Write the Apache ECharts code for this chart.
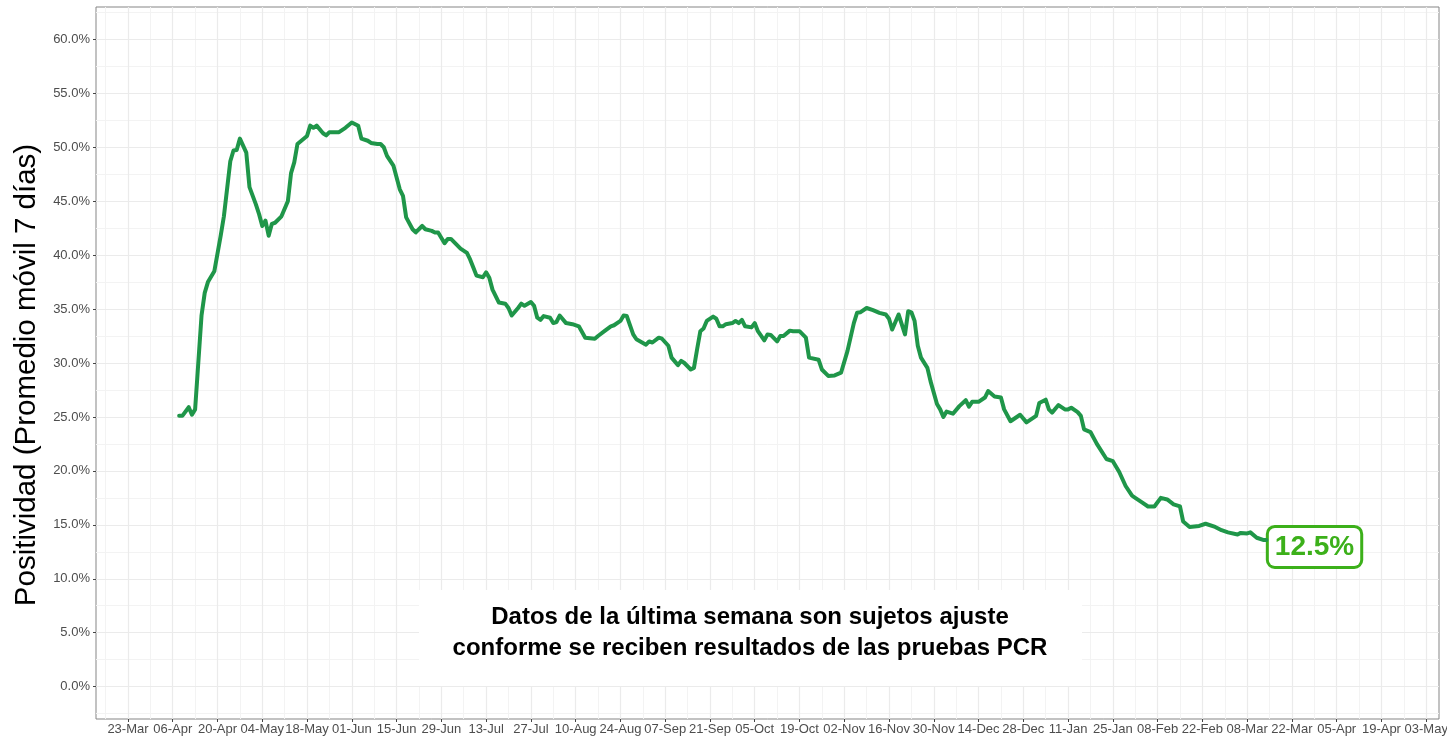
<!DOCTYPE html>
<html>
<head>
<meta charset="utf-8">
<title>Positividad</title>
<script src="https://cdn.jsdelivr.net/npm/echarts@6/dist/echarts.min.js"></script>
<style>
  html, body { margin: 0; padding: 0; background: #fff; }
  #chart { width: 1447px; height: 737px; }
</style>
</head>
<body>
<div id="chart"></div>
<script>
// fechas (promedio movil 7 dias)
const dates = [
  '2020-04-08','2020-04-09','2020-04-11','2020-04-12','2020-04-13','2020-04-15','2020-04-16','2020-04-17','2020-04-19','2020-04-21',
  '2020-04-22','2020-04-24','2020-04-25','2020-04-26','2020-04-27','2020-04-29','2020-04-30','2020-05-02','2020-05-03','2020-05-04',
  '2020-05-05','2020-05-06','2020-05-07','2020-05-08','2020-05-10','2020-05-12','2020-05-13','2020-05-14','2020-05-15','2020-05-18',
  '2020-05-19','2020-05-20','2020-05-21','2020-05-23','2020-05-24','2020-05-25','2020-05-28','2020-05-30','2020-06-01','2020-06-03',
  '2020-06-04','2020-06-06','2020-06-07','2020-06-09','2020-06-10','2020-06-11','2020-06-12','2020-06-14','2020-06-16','2020-06-17',
  '2020-06-18','2020-06-20','2020-06-21','2020-06-23','2020-06-24','2020-06-26','2020-06-27','2020-06-28','2020-06-30','2020-07-01',
  '2020-07-02','2020-07-05','2020-07-07','2020-07-08','2020-07-09','2020-07-10','2020-07-12','2020-07-13','2020-07-14','2020-07-15',
  '2020-07-17','2020-07-19','2020-07-20','2020-07-21','2020-07-23','2020-07-24','2020-07-25','2020-07-27','2020-07-28','2020-07-29',
  '2020-07-30','2020-07-31','2020-08-02','2020-08-03','2020-08-04','2020-08-05','2020-08-07','2020-08-09','2020-08-11','2020-08-13',
  '2020-08-16','2020-08-17','2020-08-19','2020-08-21','2020-08-22','2020-08-24','2020-08-25','2020-08-26','2020-08-28','2020-08-29',
  '2020-09-01','2020-09-02','2020-09-03','2020-09-05','2020-09-06','2020-09-08','2020-09-09','2020-09-11','2020-09-12','2020-09-13',
  '2020-09-15','2020-09-16','2020-09-17','2020-09-18','2020-09-19','2020-09-20','2020-09-22','2020-09-23','2020-09-24','2020-09-25',
  '2020-09-26','2020-09-28','2020-09-29','2020-09-30','2020-10-01','2020-10-02','2020-10-04','2020-10-05','2020-10-06','2020-10-08',
  '2020-10-09','2020-10-10','2020-10-12','2020-10-13','2020-10-14','2020-10-16','2020-10-17','2020-10-19','2020-10-21','2020-10-22',
  '2020-10-25','2020-10-26','2020-10-28','2020-10-30','2020-11-01','2020-11-03','2020-11-05','2020-11-06','2020-11-07','2020-11-09',
  '2020-11-11','2020-11-13','2020-11-15','2020-11-16','2020-11-17','2020-11-19','2020-11-21','2020-11-22','2020-11-23','2020-11-24',
  '2020-11-25','2020-11-26','2020-11-28','2020-11-29','2020-12-01','2020-12-02','2020-12-03','2020-12-04','2020-12-06','2020-12-08',
  '2020-12-10','2020-12-11','2020-12-12','2020-12-14','2020-12-16','2020-12-17','2020-12-19','2020-12-21','2020-12-22','2020-12-24',
  '2020-12-27','2020-12-29','2021-01-01','2021-01-02','2021-01-04','2021-01-05','2021-01-06','2021-01-08','2021-01-10','2021-01-11',
  '2021-01-12','2021-01-14','2021-01-15','2021-01-16','2021-01-18','2021-01-20','2021-01-23','2021-01-25','2021-01-27','2021-01-29',
  '2021-01-31','2021-02-01','2021-02-03','2021-02-05','2021-02-07','2021-02-09','2021-02-11','2021-02-13','2021-02-15','2021-02-16',
  '2021-02-18','2021-02-21','2021-02-23','2021-02-26','2021-02-28','2021-03-02','2021-03-05','2021-03-06','2021-03-08','2021-03-09',
  '2021-03-11','2021-03-13','2021-03-14'
]

// positividad en %
const positivity = [
  25.1, 25.1, 25.9, 25.2, 25.7, 34.4, 36.5, 37.5, 38.5, 41.8,
  43.6, 48.7, 49.7, 49.75, 50.8, 49.5, 46.3, 44.7, 43.8, 42.7,
  43.2, 41.8, 42.9, 43.0, 43.6, 45.0, 47.6, 48.6, 50.3, 51.05,
  52.0, 51.8, 52.0, 51.3, 51.1, 51.4, 51.4, 51.8, 52.3, 52.0,
  50.8, 50.6, 50.4, 50.3, 50.3, 50.0, 49.2, 48.3, 46.1, 45.5,
  43.5, 42.4, 42.1, 42.7, 42.4, 42.25, 42.1, 42.1, 41.1, 41.5,
  41.5, 40.6, 40.2, 39.6, 38.85, 38.1, 37.95, 38.4, 37.9, 36.8,
  35.6, 35.5, 35.1, 34.4, 35.1, 35.5, 35.3, 35.65, 35.3, 34.2,
  34.0, 34.35, 34.2, 33.7, 33.8, 34.4, 33.7, 33.6, 33.4, 32.35,
  32.25, 32.5, 32.95, 33.4, 33.5, 33.9, 34.4, 34.35, 32.65, 32.2,
  31.7, 32.0, 31.9, 32.35, 32.25, 31.6, 30.5, 29.8, 30.2, 30.0,
  29.4, 29.55, 31.3, 32.95, 33.2, 33.9, 34.3, 34.1, 33.4, 33.4,
  33.6, 33.7, 33.9, 33.7, 34.0, 33.4, 33.3, 33.7, 32.95, 32.1,
  32.65, 32.6, 32.0, 32.5, 32.5, 33.0, 32.95, 32.95, 32.35, 30.5,
  30.3, 29.4, 28.8, 28.85, 29.1, 31.1, 33.7, 34.65, 34.7, 35.1,
  34.9, 34.65, 34.5, 34.1, 33.1, 34.5, 32.65, 34.8, 34.7, 33.9,
  31.6, 30.5, 29.55, 28.3, 26.2, 25.7, 25.0, 25.5, 25.3, 26.0,
  26.55, 25.95, 26.4, 26.4, 26.8, 27.4, 26.9, 26.8, 25.7, 24.6,
  25.2, 24.5, 25.1, 26.3, 26.6, 25.7, 25.4, 26.1, 25.7, 25.7,
  25.85, 25.45, 25.1, 23.85, 23.6, 22.5, 21.1, 20.9, 19.9, 18.6,
  17.7, 17.5, 17.1, 16.7, 16.7, 17.5, 17.35, 16.9, 16.7, 15.3,
  14.8, 14.9, 15.1, 14.8, 14.5, 14.3, 14.1, 14.25, 14.2, 14.3,
  13.8, 13.6, 13.6
]

const lastLabel = '12.5%'

// ticks del eje x (cada 14 dias)
const xTickDates = [
  '2020-03-23','2020-04-06','2020-04-20','2020-05-04','2020-05-18','2020-06-01','2020-06-15','2020-06-29',
  '2020-07-13','2020-07-27','2020-08-10','2020-08-24','2020-09-07','2020-09-21','2020-10-05','2020-10-19',
  '2020-11-02','2020-11-16','2020-11-30','2020-12-14','2020-12-28','2021-01-11','2021-01-25','2021-02-08',
  '2021-02-22','2021-03-08','2021-03-22','2021-04-05','2021-04-19','2021-05-03'
]
const xTickLabels = [
  '23-Mar','06-Apr','20-Apr','04-May','18-May','01-Jun','15-Jun','29-Jun',
  '13-Jul','27-Jul','10-Aug','24-Aug','07-Sep','21-Sep','05-Oct','19-Oct',
  '02-Nov','16-Nov','30-Nov','14-Dec','28-Dec','11-Jan','25-Jan','08-Feb',
  '22-Feb','08-Mar','22-Mar','05-Apr','19-Apr','03-May'
]
const yTicks = [0, 5, 10, 15, 20, 25, 30, 35, 40, 45, 50, 55, 60]

const noteLines = [
  'Datos de la última semana son sujetos ajuste',
  'conforme se reciben resultados de las pruebas PCR'
]

const font = "'Liberation Sans', Arial, Helvetica, sans-serif"
const DAY = 24 * 3600 * 1000

const toTime = (s) => {
  const p = s.split('-').map(Number)
  return Date.UTC(p[0], p[1] - 1, p[2])
}

const xTickTimes = xTickDates.map(toTime)
const xMinorTimes = [xTickTimes[0] - 7 * DAY].concat(xTickTimes.map(t => t + 7 * DAY))
const yMinor = [-2.5].concat(yTicks.map(v => v + 2.5))

const xMin = toTime('2020-03-13')
const xMax = toTime('2021-05-07')

const seriesData = dates.map((d, i) => [toTime(d), positivity[i]])
const lastPoint = seriesData[seriesData.length - 1]

const chart = echarts.init(document.getElementById('chart'))

const option = {
  animation: false,
  backgroundColor: '#fff',
  grid: {
    left: 96,
    right: 8,
    top: 7,
    bottom: 18,
    outerBoundsMode: 'none',
    show: true,
    borderColor: '#858585',
    borderWidth: 1,
    backgroundColor: 'transparent'
  },
  xAxis: [
    {
      type: 'value',
      min: xMin,
      max: xMax,
      axisLine: { show: false, onZero: false },
      axisTick: {
        show: true,
        length: 3,
        lineStyle: { color: '#444' },
        customValues: xTickTimes
      },
      axisLabel: {
        customValues: xTickTimes,
        color: '#4d4d4d',
        fontSize: 13,
        fontFamily: font,
        margin: 4,
        hideOverlap: false,
        formatter: (val) => {
          const i = xTickTimes.indexOf(val)
          return i >= 0 ? xTickLabels[i] : ''
        }
      },
      splitLine: { show: true, lineStyle: { color: '#ebebeb', width: 1.2 } },
      z: 2
    },
    {
      type: 'value',
      min: xMin,
      max: xMax,
      axisLine: { show: false, onZero: false },
      axisTick: { show: false, customValues: xMinorTimes },
      axisLabel: { show: false, customValues: xMinorTimes },
      splitLine: { show: true, lineStyle: { color: '#f3f3f3', width: 1 } },
      z: 1
    }
  ],
  yAxis: [
    {
      type: 'value',
      min: -3,
      max: 63,
      name: 'Positividad (Promedio móvil 7 días)',
      nameLocation: 'middle',
      nameGap: 50,
      nameTextStyle: {
        color: '#000',
        fontSize: 29.5,
        fontFamily: font,
        padding: [0, 24, 0, 0]
      },
      axisLine: { show: false, onZero: false },
      axisTick: {
        show: true,
        length: 3,
        lineStyle: { color: '#444' },
        customValues: yTicks
      },
      axisLabel: {
        customValues: yTicks,
        color: '#4d4d4d',
        fontSize: 13,
        fontFamily: font,
        margin: 6,
        formatter: (v) => v.toFixed(1) + '%'
      },
      splitLine: { show: true, lineStyle: { color: '#ebebeb', width: 1.2 } },
      z: 2
    },
    {
      type: 'value',
      min: -3,
      max: 63,
      axisLine: { show: false, onZero: false },
      axisTick: { show: false, customValues: yMinor },
      axisLabel: { show: false, customValues: yMinor },
      splitLine: { show: true, lineStyle: { color: '#f3f3f3', width: 1 } },
      z: 1
    }
  ],
  series: [
    {
      type: 'line',
      xAxisIndex: 0,
      yAxisIndex: 0,
      data: seriesData,
      showSymbol: false,
      symbol: 'none',
      lineStyle: { color: '#1f9649', width: 4, join: 'round', cap: 'round' },
      z: 5,
      markPoint: {
        symbol: 'circle',
        symbolSize: 1,
        itemStyle: { color: 'transparent' },
        data: [{ coord: lastPoint }],
        label: {
          show: true,
          position: 'right',
          distance: 2,
          offset: [0, 7],
          formatter: () => lastLabel,
          color: '#3cb01a',
          fontSize: 28,
          fontWeight: 'bold',
          fontFamily: font,
          backgroundColor: '#fff',
          borderColor: '#3cb01a',
          borderWidth: 3,
          borderRadius: 6,
          padding: [4, 6, 2, 6],
          lineHeight: 32
        }
      }
    }
  ],
  graphic: [
    {
      type: 'rect',
      left: 419,
      top: 590,
      shape: { width: 663, height: 96 },
      style: { fill: '#fff' },
      z: 10
    },
    {
      type: 'text',
      x: 750,
      y: 602,
      style: {
        text: noteLines.join('\n'),
        textAlign: 'center',
        textVerticalAlign: 'top',
        fill: '#000',
        font: 'bold 24px ' + font,
        lineHeight: 31
      },
      z: 11
    }
  ]
}

chart.setOption(option)
</script>
</body>
</html>
